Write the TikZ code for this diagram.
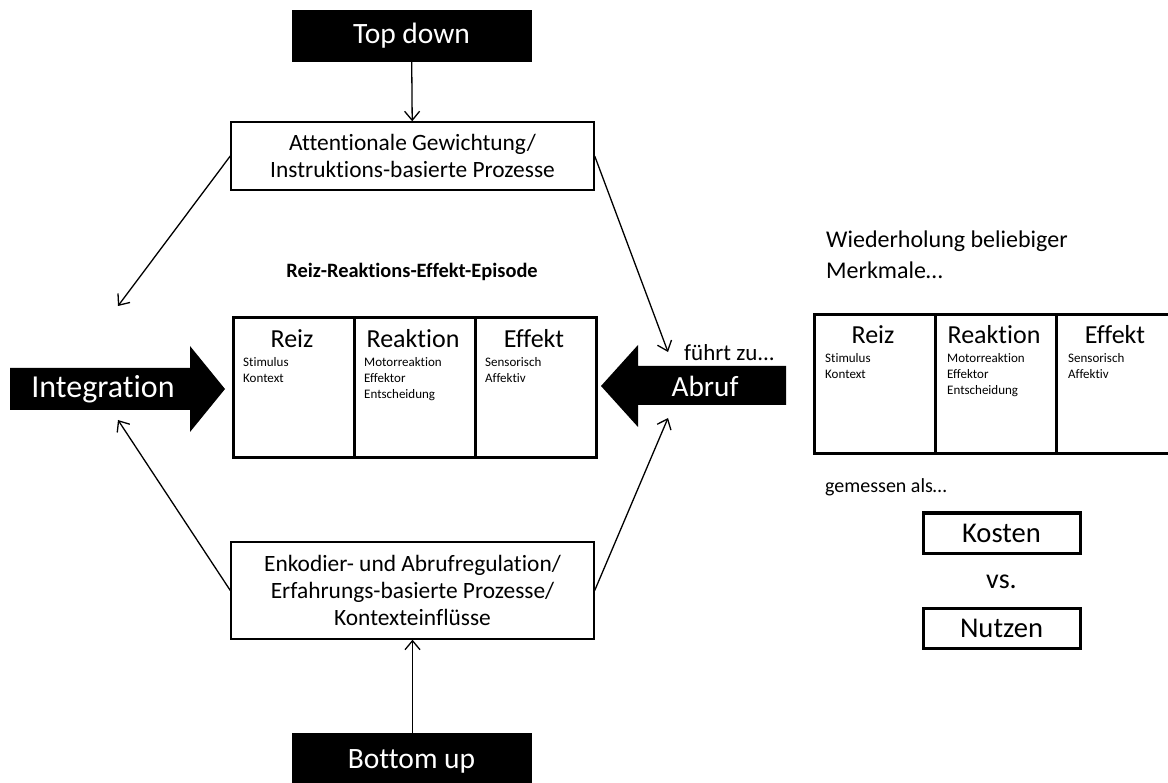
\documentclass[tikz,border=0pt]{standalone}
\usepackage{fontspec}
\setmainfont{Carlito}[Ligatures=NoCommon]
\usetikzlibrary{arrows.meta}
\newcommand{\fs}[1]{\fontsize{#1}{#1}\selectfont}
\tikzset{
  blackbox/.style={fill=black, draw=black, text=white, inner sep=0pt, font=\fs{29.5}},
  procbox/.style={draw=black, line width=1.4pt, inner sep=0pt, align=center,
    minimum width=363pt, font=\fontsize{23.4}{27}\selectfont},
  col/.style={draw=black, line width=3pt, inner sep=0pt, minimum height=140pt, minimum width=121pt},
  colhead/.style={anchor=base, font=\fs{26}},
  colsub/.style={anchor=north west, align=left, inner sep=0pt, font=\fontsize{13}{16}\selectfont},
  plain/.style={inner sep=0pt, font=\fs{20}},
  thin/.style={line width=1.3pt, -{Straight Barb[length=9pt, width=15pt, line width=1.3pt]}},
  costbox/.style={draw=black, line width=3pt, inner sep=0pt, minimum width=157pt, minimum height=40pt, font=\fs{28.6}},
  block/.style={fill=black, draw=none},
}
\begin{document}
\begin{tikzpicture}[x=1pt, y=-1pt]
\useasboundingbox (0,0) rectangle (1168,783);
\clip (0,0) rectangle (1168,783);

% top and bottom drivers
\node[blackbox, minimum width=239pt, minimum height=51pt] (top) at (411.5,35.5) {Top down};
\node[blackbox, minimum width=239pt, minimum height=60pt] (bottom) at (411.5,763) {};
\node[plain, anchor=base, text=white, font=\fs{29.5}] (bottomlabel) at (411.5,768) {Bottom up};

% process boxes
\node[procbox, minimum height=68pt] (att) at (412.5,156) {Attentionale Gewichtung/\\Instruktions-basierte Prozesse};
\node[procbox, minimum height=97pt] (enc) at (412.5,590.5) {Enkodier- und Abrufregulation/\\Erfahrungs-basierte Prozesse/\\Kontexteinflüsse};

\draw[thin] (top) -- (att);
\draw[thin] (bottom.north -| enc) -- (enc);

% episode title
\node[plain, font=\bfseries\fs{20.4}, anchor=base] (title) at (412,278) {Reiz-Reaktions-Effekt-Episode};

% main episode (three columns)
\node[col, anchor=north west] (c1) at (231.5,316) {};
\node[col, anchor=north west] (c2) at (352.5,316) {};
\node[col, anchor=north west] (c3) at (473.5,316) {};
\node[colhead] (h1) at (292,348) {Reiz};
\node[colhead] (h2) at (413,348) {Reaktion};
\node[colhead] (h3) at (534,348) {Effekt};
\node[colsub] (s1) at (243,357) {Stimulus\\Kontext};
\node[colsub] (s2) at (364,357) {Motorreaktion\\Effektor\\Entscheidung};
\node[colsub] (s3) at (485,357) {Sensorisch\\Affektiv};

% block arrows
\fill[block] (10,368) -- (190,368) -- (190,346) -- (225,389) -- (190,432) -- (190,410) -- (10,410) -- cycle;
\node[plain, text=white, font=\fs{32}] (integ) at (103,389) {Integration};
\fill[block] (786,366) -- (638,366) -- (638,345) -- (601,386) -- (638,427) -- (638,405) -- (786,405) -- cycle;
\node[plain, text=white, font=\fs{29.3}] (abruf) at (705,386) {Abruf};
\node[plain, anchor=base west, font=\fs{23}] (fuehrt) at (684,361) {führt zu...};

% feedback connectors
\coordinate (tl) at (118,306);
\coordinate (tr) at (668,352);
\coordinate (bl) at (118,420);
\coordinate (br) at (668,418);
\draw[thin] (att.west) -- (tl);
\draw[thin] (att.east) -- (tr);
\draw[thin] (enc.west) -- (bl);
\draw[thin] (enc.east) -- (br);

% repeated episode
\node[plain, anchor=base west, align=left, font=\fontsize{24}{31}\selectfont] (wied) at (826,279) {Wiederholung beliebiger\\Merkmale…};
\node[col, minimum height=139pt, anchor=north west] (r1) at (812.5,313) {};
\node[col, minimum height=139pt, anchor=north west] (r2) at (934,313) {};
\node[col, minimum height=139pt, anchor=north west] (r3) at (1055,313) {};
\node[colhead] (rh1) at (873,344) {Reiz};
\node[colhead] (rh2) at (994,344) {Reaktion};
\node[colhead] (rh3) at (1115,344) {Effekt};
\node[colsub] (rs1) at (825,353) {Stimulus\\Kontext};
\node[colsub] (rs2) at (947,353) {Motorreaktion\\Effektor\\Entscheidung};
\node[colsub] (rs3) at (1068,353) {Sensorisch\\Affektiv};

\node[plain, anchor=base west] (gem) at (825,493) {gemessen als…};
\node[costbox] (kosten) at (1001.5,533) {Kosten};
\node[plain, font=\fs{28}] (vs) at (1001.5,582) {vs.};
\node[costbox] (nutzen) at (1001.5,628) {Nutzen};
\end{tikzpicture}
\end{document}
